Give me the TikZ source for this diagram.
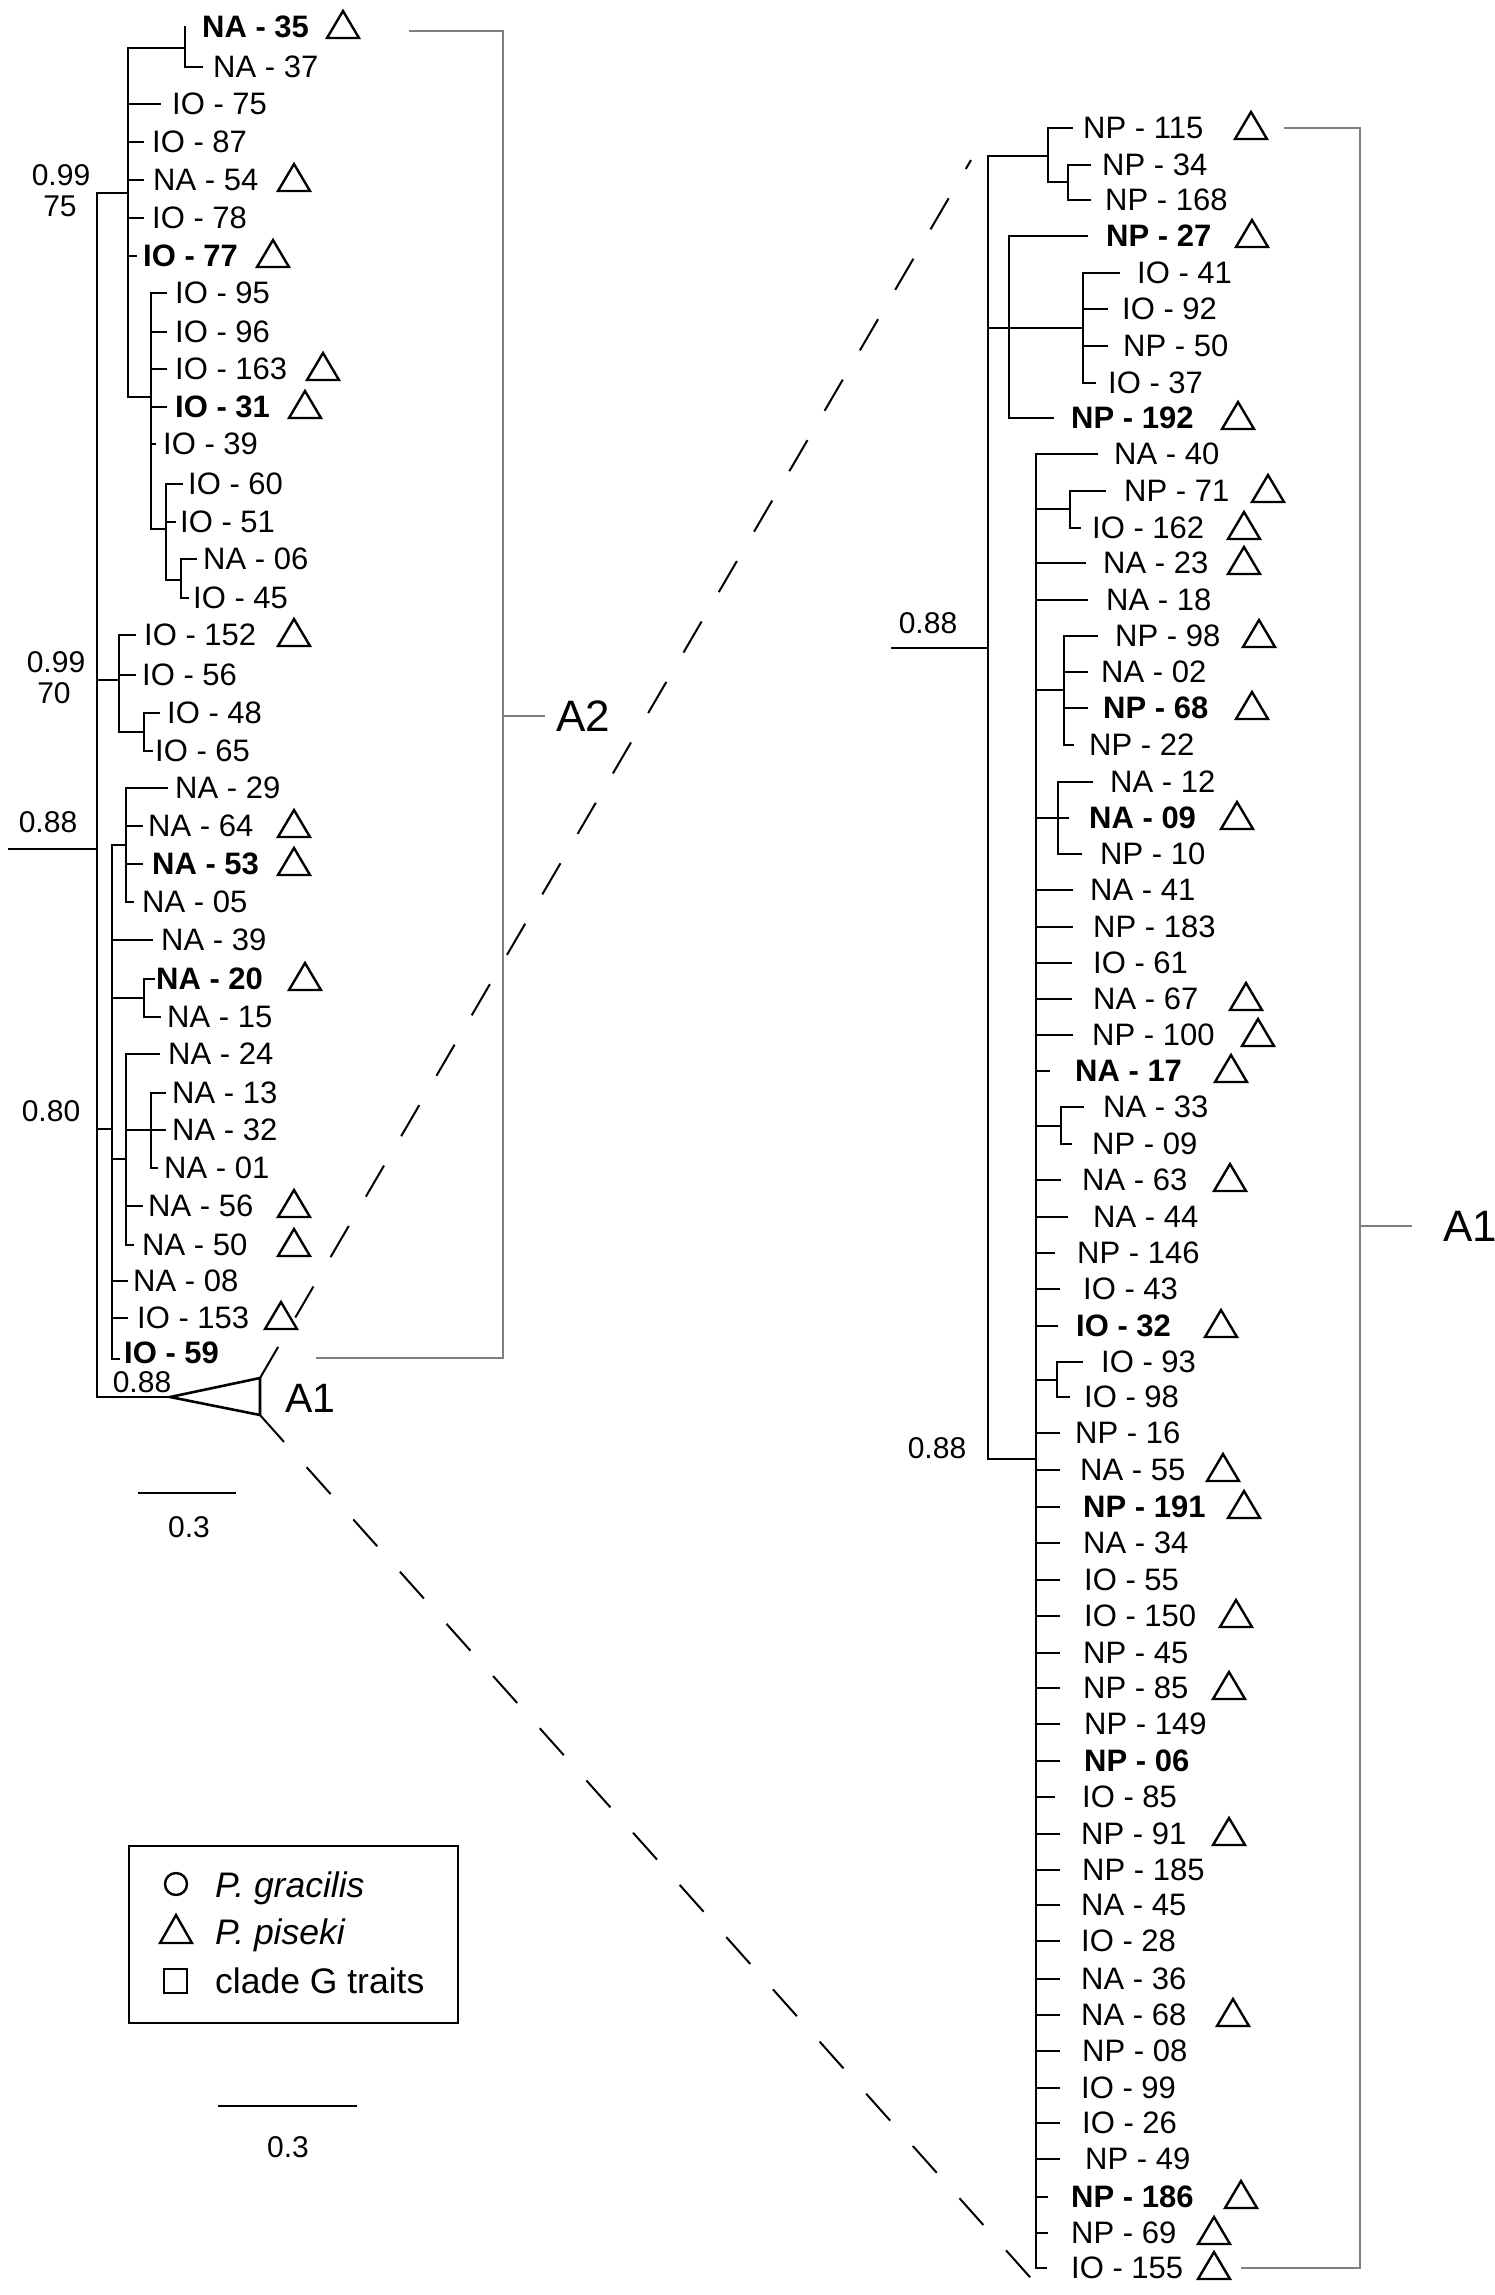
\documentclass[tikz,border=0pt]{standalone}
\usepackage{fontspec}
\setmainfont{Liberation Sans}
\newcommand\lf[6]{\draw[br] (#2,#1) -- (#3,#1);\node[lab] (#6) at (#4,#1) {#5};}
\newcommand\tri[2]{\draw[trist] (#1,#2+11) -- ++(32,0) -- ++(-16,-27) -- cycle;}
\begin{document}
\begin{tikzpicture}[x=1pt,y=-1pt,
  br/.style={line width=2.6pt,line cap=rect},
  trist/.style={line width=2.4pt},
  lab/.style={anchor=west,inner sep=0pt,font=\fontsize{31}{36}\selectfont},
  sup/.style={inner sep=0pt,font=\fontsize{30}{35}\selectfont},
  clab/.style={anchor=west,inner sep=0pt,font=\fontsize{44}{50}\selectfont},
  gbr/.style={line width=2pt,draw=black!50},
  dsh/.style={line width=2pt,dash pattern=on 36pt off 34pt}]
\useasboundingbox (0,0) rectangle (1495,2295);
% ===== LEFT TREE =====
\draw[br] (9,849) -- (97,849);
\draw[br] (97,193) -- (97,1397);
% clade 0.99/75
\draw[br] (97,193) -- (128,193);
\draw[br] (128,48) -- (128,397);
\draw[br] (128,48) -- (185,48);
\draw[br] (185,27) -- (185,67);
\node[lab] (NA35) at (202,27) {\textbf{NA - 35}}; \tri{327}{27}
\lf{67}{185}{202}{213}{NA - 37}{NA37}
\lf{104}{128}{160}{172}{IO - 75}{IO75}
\lf{142}{128}{143}{152}{IO - 87}{IO87}
\lf{180}{128}{143}{153}{NA - 54}{NA54} \tri{278}{180}
\lf{218}{128}{143}{152}{IO - 78}{IO78}
\lf{256}{128}{136}{143}{\textbf{IO - 77}}{IO77} \tri{257}{256}
\draw[br] (128,397) -- (151,397);
\draw[br] (151,293) -- (151,529);
\lf{293}{151}{166}{175}{IO - 95}{IO95}
\lf{332}{151}{166}{175}{IO - 96}{IO96}
\lf{369}{151}{166}{175}{IO - 163}{IO163} \tri{307}{369}
\lf{407}{151}{166}{175}{\textbf{IO - 31}}{IO31} \tri{289}{407}
\lf{444}{151}{155}{163}{IO - 39}{IO39}
\draw[br] (151,529) -- (166,529);
\draw[br] (166,484) -- (166,580);
\lf{484}{166}{182}{188}{IO - 60}{IO60}
\lf{522}{166}{175}{180}{IO - 51}{IO51}
\draw[br] (166,580) -- (181,580);
\draw[br] (181,559) -- (181,598);
\lf{559}{181}{196}{203}{NA - 06}{NA06}
\lf{598}{181}{188}{193}{IO - 45}{IO45}
\node[sup] (s1a) at (61,175) {0.99};
\node[sup] (s1b) at (60,206) {75};
% clade 0.99/70
\draw[br] (97,680) -- (119,680);
\draw[br] (119,635) -- (119,732);
\lf{635}{119}{135}{144}{IO - 152}{IO152} \tri{278}{635}
\lf{675}{119}{135}{142}{IO - 56}{IO56}
\draw[br] (119,732) -- (144,732);
\draw[br] (144,713) -- (144,751);
\lf{713}{144}{159}{167}{IO - 48}{IO48}
\lf{751}{144}{152}{155}{IO - 65}{IO65}
\node[sup] (s2a) at (56,662) {0.99};
\node[sup] (s2b) at (54,693) {70};
\node[sup] (sroot) at (48,822) {0.88};
% clade 0.80
\draw[br] (97,1129) -- (112,1129);
\draw[br] (112,845) -- (112,1359);
\draw[br] (112,845) -- (126,845);
\draw[br] (126,788) -- (126,902);
\lf{788}{126}{167}{175}{NA - 29}{NA29}
\lf{826}{126}{142}{148}{NA - 64}{NA64} \tri{278}{826}
\lf{864}{126}{142}{152}{\textbf{NA - 53}}{NA53} \tri{278}{864}
\lf{902}{126}{133}{142}{NA - 05}{NA05}
\lf{940}{112}{152}{161}{NA - 39}{NA39}
\draw[br] (112,998) -- (144,998);
\draw[br] (144,979) -- (144,1017);
\lf{979}{144}{154}{156}{\textbf{NA - 20}}{NA20} \tri{289}{979}
\lf{1017}{144}{160}{167}{NA - 15}{NA15}
\draw[br] (112,1159) -- (126,1159);
\draw[br] (126,1054) -- (126,1245);
\lf{1054}{126}{159}{168}{NA - 24}{NA24}
\draw[br] (126,1130) -- (151,1130);
\draw[br] (151,1093) -- (151,1168);
\lf{1093}{151}{165}{172}{NA - 13}{NA13}
\lf{1130}{151}{165}{172}{NA - 32}{NA32}
\lf{1168}{151}{157}{164}{NA - 01}{NA01}
\lf{1206}{126}{142}{148}{NA - 56}{NA56} \tri{278}{1206}
\lf{1245}{126}{133}{142}{NA - 50}{NA50} \tri{278}{1245}
\lf{1281}{112}{127}{133}{NA - 08}{NA08}
\lf{1318}{112}{127}{137}{IO - 153}{IO153} \tri{265}{1318}
\draw[br] (112,1359) -- (119,1359);
\node[lab] (IO59) at (124,1353) {\textbf{IO - 59}};
\node[sup] (s3) at (51,1111) {0.80};
% collapsed A1
\draw[br] (97,1397) -- (170,1397);
\draw[line width=2.6pt] (170,1397) -- (260,1378) -- (260,1415) -- cycle;
\coordinate (tA) at (260,1378);
\coordinate (tB) at (260,1415);
\node[sup] (s4) at (142,1382) {0.88};
\node[clab,font=\fontsize{41}{46}\selectfont] (A1l) at (285,1398) {A1};
% scale bar left
\draw[line width=2.6pt] (138,1493) -- (236,1493);
\node[sup] (sc1) at (189,1527) {0.3};
% A2 bracket
\draw[gbr] (409,31) -- (503,31) -- (503,1358) -- (316,1358);
\draw[gbr] (503,716) -- (545,716);
\node[clab] (A2) at (556,716) {A2};
% dashed zoom lines
\coordinate (rT) at (971,160);
\coordinate (rB) at (1037,2285);
\draw[dsh] (tA) -- (rT);
\draw[dsh] (tB) -- (rB);
% ===== RIGHT TREE =====
\draw[br] (892,648) -- (988,648);
\node[sup] (s5) at (928,623) {0.88};
\draw[br] (988,156) -- (988,1459);
\draw[br] (988,156) -- (1048,156);
\draw[br] (1048,128) -- (1048,182);
\lf{128}{1048}{1072}{1083}{NP - 115}{NP115} \tri{1235}{128}
\draw[br] (1048,182) -- (1068,182);
\draw[br] (1068,165) -- (1068,200);
\lf{165}{1068}{1090}{1102}{NP - 34}{NP34}
\lf{200}{1068}{1090}{1105}{NP - 168}{NP168}
\draw[br] (988,328) -- (1083,328);
\draw[br] (1009,236) -- (1009,418);
\draw[br] (1083,273) -- (1083,383);
\lf{236}{1009}{1087}{1106}{\textbf{NP - 27}}{NP27} \tri{1236}{236}
\lf{273}{1083}{1119}{1137}{IO - 41}{IO41}
\lf{309}{1083}{1107}{1122}{IO - 92}{IO92}
\lf{346}{1083}{1107}{1123}{NP - 50}{NP50}
\lf{383}{1083}{1095}{1108}{IO - 37}{IO37}
\lf{418}{1009}{1053}{1071}{\textbf{NP - 192}}{NP192} \tri{1222}{418}
% A1 clade
\draw[br] (988,1459) -- (1036,1459);
\draw[br] (1036,454) -- (1036,2268);
\node[sup] (s6) at (937,1448) {0.88};
\lf{454}{1036}{1097}{1114}{NA - 40}{NA40}
\draw[br] (1036,509) -- (1070,509);
\draw[br] (1070,491) -- (1070,528);
\lf{491}{1070}{1105}{1124}{NP - 71}{NP71} \tri{1252}{491}
\lf{528}{1070}{1080}{1092}{IO - 162}{IO162} \tri{1228}{528}
\lf{563}{1036}{1085}{1103}{NA - 23}{NA23} \tri{1228}{563}
\lf{600}{1036}{1087}{1106}{NA - 18}{NA18}
\draw[br] (1036,690) -- (1064,690);
\draw[br] (1064,636) -- (1064,745);
\lf{636}{1064}{1097}{1115}{NP - 98}{NP98} \tri{1243}{636}
\lf{672}{1064}{1087}{1101}{NA - 02}{NA02}
\lf{708}{1064}{1087}{1103}{\textbf{NP - 68}}{NP68} \tri{1236}{708}
\lf{745}{1064}{1073}{1089}{NP - 22}{NP22}
\draw[br] (1036,818) -- (1058,818);
\draw[br] (1058,782) -- (1058,854);
\lf{782}{1058}{1092}{1110}{NA - 12}{NA12}
\lf{818}{1058}{1068}{1089}{\textbf{NA - 09}}{NA09} \tri{1221}{818}
\lf{854}{1058}{1081}{1100}{NP - 10}{NP10}
\lf{890}{1036}{1072}{1090}{NA - 41}{NA41}
\lf{927}{1036}{1072}{1093}{NP - 183}{NP183}
\lf{963}{1036}{1071}{1093}{IO - 61}{IO61}
\lf{999}{1036}{1071}{1093}{NA - 67}{NA67} \tri{1230}{999}
\lf{1035}{1036}{1072}{1092}{NP - 100}{NP100} \tri{1242}{1035}
\lf{1071}{1036}{1049}{1075}{\textbf{NA - 17}}{NA17} \tri{1215}{1071}
\draw[br] (1036,1126) -- (1061,1126);
\draw[br] (1061,1107) -- (1061,1144);
\lf{1107}{1061}{1083}{1103}{NA - 33}{NA33}
\lf{1144}{1061}{1071}{1092}{NP - 09}{NP09}
\lf{1180}{1036}{1060}{1082}{NA - 63}{NA63} \tri{1214}{1180}
\lf{1217}{1036}{1067}{1093}{NA - 44}{NA44}
\lf{1253}{1036}{1054}{1077}{NP - 146}{NP146}
\lf{1289}{1036}{1059}{1083}{IO - 43}{IO43}
\lf{1326}{1036}{1057}{1076}{\textbf{IO - 32}}{IO32} \tri{1205}{1326}
\draw[br] (1036,1380) -- (1057,1380);
\draw[br] (1057,1362) -- (1057,1397);
\lf{1362}{1057}{1082}{1101}{IO - 93}{IO93}
\lf{1397}{1057}{1069}{1084}{IO - 98}{IO98}
\lf{1433}{1036}{1059}{1075}{NP - 16}{NP16}
\lf{1470}{1036}{1059}{1080}{NA - 55}{NA55} \tri{1207}{1470}
\lf{1507}{1036}{1059}{1083}{\textbf{NP - 191}}{NP191} \tri{1228}{1507}
\lf{1543}{1036}{1059}{1083}{NA - 34}{NA34}
\lf{1580}{1036}{1059}{1084}{IO - 55}{IO55}
\lf{1616}{1036}{1059}{1084}{IO - 150}{IO150} \tri{1220}{1616}
\lf{1653}{1036}{1059}{1083}{NP - 45}{NP45}
\lf{1688}{1036}{1059}{1083}{NP - 85}{NP85} \tri{1213}{1688}
\lf{1724}{1036}{1059}{1084}{NP - 149}{NP149}
\lf{1761}{1036}{1059}{1084}{\textbf{NP - 06}}{NP06}
\lf{1797}{1036}{1054}{1082}{IO - 85}{IO85}
\lf{1834}{1036}{1059}{1081}{NP - 91}{NP91} \tri{1213}{1834}
\lf{1870}{1036}{1059}{1082}{NP - 185}{NP185}
\lf{1905}{1036}{1059}{1081}{NA - 45}{NA45}
\lf{1941}{1036}{1059}{1081}{IO - 28}{IO28}
\lf{1979}{1036}{1059}{1081}{NA - 36}{NA36}
\lf{2015}{1036}{1059}{1081}{NA - 68}{NA68} \tri{1217}{2015}
\lf{2051}{1036}{1059}{1082}{NP - 08}{NP08}
\lf{2088}{1036}{1059}{1081}{IO - 99}{IO99}
\lf{2123}{1036}{1059}{1082}{IO - 26}{IO26}
\lf{2159}{1036}{1059}{1085}{NP - 49}{NP49}
\lf{2197}{1036}{1047}{1071}{\textbf{NP - 186}}{NP186} \tri{1225}{2197}
\lf{2233}{1036}{1047}{1071}{NP - 69}{NP69} \tri{1198}{2233}
\lf{2268}{1036}{1046}{1071}{IO - 155}{IO155} \tri{1198}{2268}
% A1 bracket right
\draw[gbr] (1284,128) -- (1360,128) -- (1360,2268) -- (1241,2268);
\draw[gbr] (1360,1226) -- (1412,1226);
\node[clab] (A1r) at (1443,1226) {A1};
% ===== LEGEND =====
\node[draw,line width=2pt,minimum width=329pt,minimum height=177pt,inner sep=0pt,anchor=north west] (leg) at (128,1845) {};
\draw[line width=2.4pt] (176,1884) circle (11);
\draw[trist] (160,1943) -- (192,1943) -- (176,1915) -- cycle;
\draw[line width=2.4pt] (164,1969) rectangle (187,1993);
\node[anchor=base west,inner sep=0pt,font=\fontsize{35.5}{40}\selectfont\itshape] (lg1) at (215,1897) {P. gracilis};
\node[anchor=base west,inner sep=0pt,font=\fontsize{35.5}{40}\selectfont\itshape] (lg2) at (215,1944) {P. piseki};
\node[anchor=base west,inner sep=0pt,font=\fontsize{35.5}{40}\selectfont] (lg3) at (215,1993) {clade G traits};
% scale bar bottom
\draw[line width=2.6pt] (218,2106) -- (357,2106);
\node[sup] (sc2) at (288,2147) {0.3};
\end{tikzpicture}
\end{document}
